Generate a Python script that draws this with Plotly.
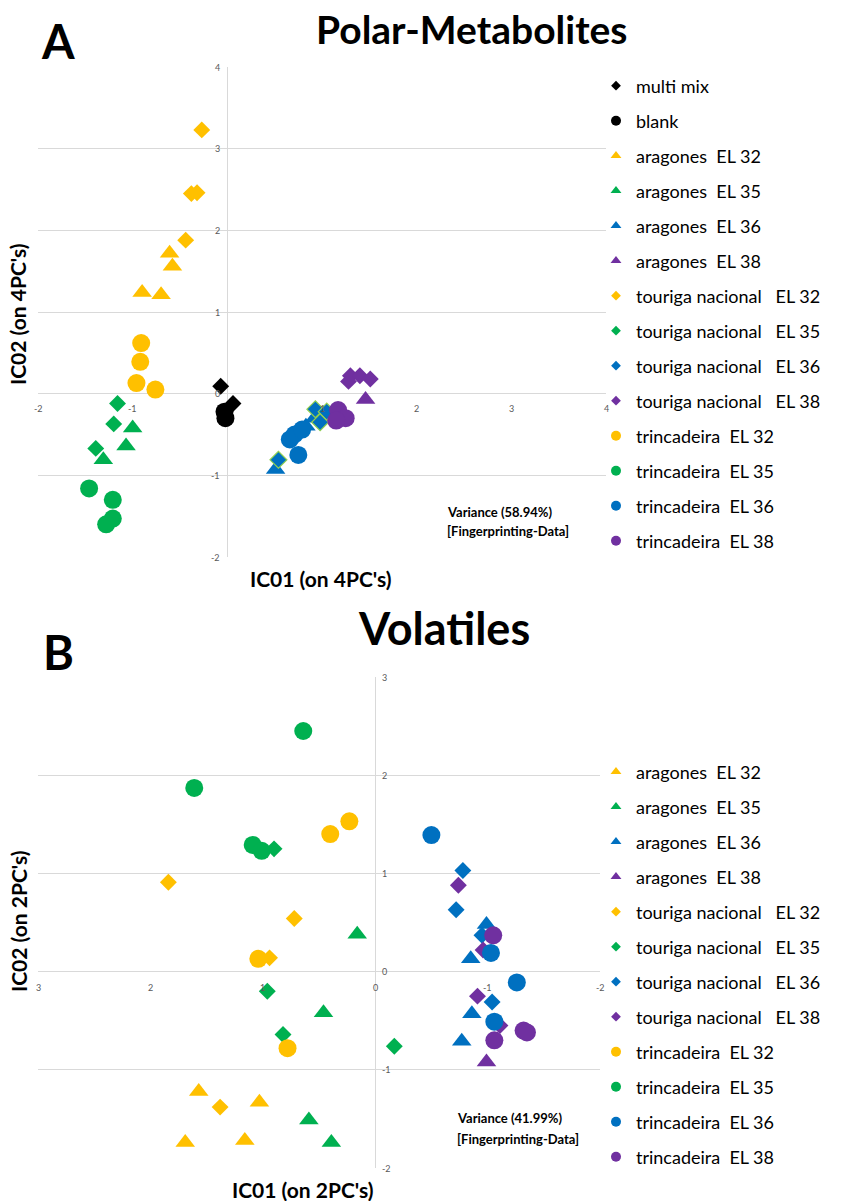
import plotly.graph_objects as go

W, H = 854, 1201
def px(x): return x / W
def py(y): return 1 - y / H

FONT = "Lato"
YELLOW, GREEN, BLUE, PURPLE, BLACK = "#FFC000", "#00B050", "#0070C0", "#7030A0", "#000000"

# ---------------- Panel A data (Polar-Metabolites) ----------------
a_names = ["multi mix", "blank",
           "aragones  EL 32", "aragones  EL 35", "aragones  EL 36", "aragones  EL 38",
           "touriga nacional   EL 32", "touriga nacional   EL 35", "touriga nacional   EL 36", "touriga nacional   EL 38",
           "trincadeira  EL 32", "trincadeira  EL 35", "trincadeira  EL 36", "trincadeira  EL 38"]
a_multimix_x = [-0.07, 0.06];  a_multimix_y = [0.09, -0.12]
a_blank_x = [-0.03, -0.02];    a_blank_y = [-0.22, -0.30]
a_ara32_x = [-0.61, -0.58, -0.90, -0.70]; a_ara32_y = [1.72, 1.56, 1.24, 1.21]
a_ara35_x = [-1.00, -1.07, -1.31];        a_ara35_y = [-0.42, -0.64, -0.81]
a_ara36_x = [0.51, 0.83, 0.92];           a_ara36_y = [-0.93, -0.40, -0.30]
a_ara38_x = [1.46];                       a_ara38_y = [-0.07]
a_tou32_x = [-0.27, -0.38, -0.32, -0.44]; a_tou32_y = [3.23, 2.45, 2.46, 1.88]
a_tou35_x = [-1.16, -1.20, -1.39];        a_tou35_y = [-0.12, -0.37, -0.67]
a_tou36_x = [0.93, 1.05, 0.98, 0.54];     a_tou36_y = [-0.19, -0.22, -0.35, -0.81]
a_tou38_x = [1.30, 1.40, 1.51, 1.28];     a_tou38_y = [0.22, 0.22, 0.18, 0.15]
a_tri32_x = [-0.91, -0.92, -0.96, -0.76]; a_tri32_y = [0.62, 0.39, 0.13, 0.05]
a_tri35_x = [-1.46, -1.21, -1.21, -1.28]; a_tri35_y = [-1.16, -1.30, -1.53, -1.60]
a_tri36_x = [0.66, 0.71, 0.79, 0.75];     a_tri36_y = [-0.56, -0.50, -0.44, -0.75]
a_tri38_x = [1.17, 1.25, 1.15];           a_tri38_y = [-0.20, -0.30, -0.33]

a_xticks = [-2, -1, 1, 2, 3, 4]
a_yticks = [-2, -1, 0, 1, 2, 3, 4]

# ---------------- Panel B data (Volatiles) ----------------
b_names = a_names[2:]
b_ara32_x = [1.57, 1.03, 1.69, 1.16];     b_ara32_y = [-1.22, -1.33, -1.74, -1.72]
b_ara35_x = [0.16, 0.46, 0.59, 0.39];     b_ara35_y = [0.38, -0.42, -1.51, -1.74]
b_ara36_x = [-0.99, -0.85, -0.86, -0.77]; b_ara36_y = [0.48, 0.13, -0.43, -0.71]
b_ara38_x = [-0.99];                      b_ara38_y = [-0.92]
b_tou32_x = [1.84, 0.72, 0.94, 1.38];     b_tou32_y = [0.91, 0.54, 0.14, -1.38]
b_tou35_x = [0.90, 0.96, 0.82, -0.17];    b_tou35_y = [1.25, -0.20, -0.64, -0.76]
b_tou36_x = [-0.78, -0.72, -0.95, -1.04]; b_tou36_y = [1.03, 0.63, 0.37, -0.31]
b_tou38_x = [-0.74, -0.96, -0.91, -1.11]; b_tou38_y = [0.88, 0.22, -0.25, -0.55]
b_tri32_x = [0.23, 0.40, 1.04, 0.78];     b_tri32_y = [1.53, 1.40, 0.13, -0.78]
b_tri35_x = [0.64, 1.61, 1.09, 1.01];     b_tri35_y = [2.45, 1.87, 1.29, 1.23]
b_tri36_x = [-0.50, -1.03, -1.26, -1.06]; b_tri36_y = [1.39, 0.19, -0.11, -0.51]
b_tri38_x = [-1.05, -1.06, -1.32, -1.35]; b_tri38_y = [0.37, -0.70, -0.60, -0.62]

b_xticks = [3, 2, 1, 0, -1, -2]
b_yticks = [-2, -1, 0, 1, 2, 3]

fig = go.Figure()

SIZES = {"circle": 18, "diamond": 13, "triangle-up": 17}
LEG_SIZES = {"circle": 10, "diamond": 7.5, "triangle-up": 9.5}

def add(name, xs, ys, symbol, color, xa, ya, legend, outline=None):
    # plotted markers
    fig.add_trace(go.Scatter(
        x=xs, y=ys, mode="markers", name=name.replace(" ", "\u00a0"),
        xaxis=xa, yaxis=ya, showlegend=False,
        marker=dict(symbol=symbol, size=SIZES[symbol], color=color,
                    line=dict(width=1.2 if outline else 0, color=outline or color)),
    ))
    # legend entry with the small legend-sized marker
    fig.add_trace(go.Scatter(
        x=[None], y=[None], mode="markers", name=name.replace(" ", "\u00a0"),
        xaxis=xa, yaxis=ya, legend=legend, legendgroup=legend + name, showlegend=True,
        marker=dict(symbol=symbol, size=LEG_SIZES[symbol], color=color, line=dict(width=0)),
    ))

a_series = [
    (a_multimix_x, a_multimix_y, "diamond", BLACK, None),
    (a_blank_x, a_blank_y, "circle", BLACK, None),
    (a_ara32_x, a_ara32_y, "triangle-up", YELLOW, None),
    (a_ara35_x, a_ara35_y, "triangle-up", GREEN, None),
    (a_ara36_x, a_ara36_y, "triangle-up", BLUE, None),
    (a_ara38_x, a_ara38_y, "triangle-up", PURPLE, None),
    (a_tou32_x, a_tou32_y, "diamond", YELLOW, None),
    (a_tou35_x, a_tou35_y, "diamond", GREEN, None),
    (a_tou36_x, a_tou36_y, "diamond", BLUE, "#92D050"),
    (a_tou38_x, a_tou38_y, "diamond", PURPLE, None),
    (a_tri32_x, a_tri32_y, "circle", YELLOW, None),
    (a_tri35_x, a_tri35_y, "circle", GREEN, None),
    (a_tri36_x, a_tri36_y, "circle", BLUE, None),
    (a_tri38_x, a_tri38_y, "circle", PURPLE, None),
]
for name, (xs, ys, sym, col, ol) in zip(a_names, a_series):
    add(name, xs, ys, sym, col, "x", "y", "legend", ol)

b_series = [
    (b_ara32_x, b_ara32_y, "triangle-up", YELLOW),
    (b_ara35_x, b_ara35_y, "triangle-up", GREEN),
    (b_ara36_x, b_ara36_y, "triangle-up", BLUE),
    (b_ara38_x, b_ara38_y, "triangle-up", PURPLE),
    (b_tou32_x, b_tou32_y, "diamond", YELLOW),
    (b_tou35_x, b_tou35_y, "diamond", GREEN),
    (b_tou36_x, b_tou36_y, "diamond", BLUE),
    (b_tou38_x, b_tou38_y, "diamond", PURPLE),
    (b_tri32_x, b_tri32_y, "circle", YELLOW),
    (b_tri35_x, b_tri35_y, "circle", GREEN),
    (b_tri36_x, b_tri36_y, "circle", BLUE),
    (b_tri38_x, b_tri38_y, "circle", PURPLE),
]
for name, (xs, ys, sym, col) in zip(b_names, b_series):
    add(name, xs, ys, sym, col, "x2", "y2", "legend2")

GRID = "#d9d9d9"
axis_common = dict(showticklabels=False, ticks="", showline=False, zeroline=True,
                   zerolinecolor=GRID, zerolinewidth=1.2, dtick=1, fixedrange=True)

ann = []
tick_font = dict(family=FONT, size=9, color="#595959")
for t in a_xticks:
    ann.append(dict(x=t, y=0, xref="x", yref="y", text=str(t), showarrow=False,
                    yshift=-15, font=tick_font))
for t in a_yticks:
    ann.append(dict(x=0, y=t, xref="x", yref="y", text=str(t), showarrow=False,
                    xanchor="right", xshift=-5, font=tick_font))
for t in b_xticks:
    ann.append(dict(x=t, y=0, xref="x2", yref="y2", text=str(t), showarrow=False,
                    yshift=-16, font=tick_font))
for t in b_yticks:
    ann.append(dict(x=0, y=t, xref="x2", yref="y2", text=str(t), showarrow=False,
                    xanchor="left", xshift=5, font=tick_font))

def txt(x, y, s, size, bold=True, angle=0, xanchor="center"):
    ann.append(dict(x=px(x), y=py(y), xref="paper", yref="paper", text=f"<b>{s}</b>" if bold else s,
                    showarrow=False, textangle=angle, xanchor=xanchor, yanchor="middle",
                    font=dict(family=FONT, size=size, color="black")))

txt(58, 41, "A", 47)
txt(472, 29, "Polar-Metabolites", 39)
txt(18, 314, "IC02 (on 4PC's)", 21, angle=-90)
txt(321, 578, "IC01 (on 4PC's)", 21)
txt(445, 512, "Variance (58.94%)", 13, xanchor="left")
txt(445, 531, "[Fingerprinting-Data]", 13, xanchor="left")

txt(58, 652, "B", 47)
txt(444, 628, "Volatiles", 45)
txt(18, 921, "IC02 (on 2PC's)", 21, angle=-90)
txt(303, 1189, "IC01 (on 2PC's)", 21)
txt(455, 1118, "Variance (41.99%)", 13, xanchor="left")
txt(455, 1139, "[Fingerprinting-Data]", 13, xanchor="left")

legend_common = dict(xanchor="left", yanchor="top", bgcolor="rgba(0,0,0,0)",
                     font=dict(family=FONT, size=18, color="black"),
                     itemsizing="trace", tracegroupgap=8.6, itemclick=False)

fig.update_layout(
    width=W, height=H, margin=dict(l=0, r=0, t=0, b=0),
    paper_bgcolor="white", plot_bgcolor="white",
    showlegend=True,
    xaxis=dict(domain=[px(38), px(606)], range=[-2, 4], showgrid=False, anchor="y", **axis_common),
    yaxis=dict(domain=[py(557), py(67)], range=[-2, 4], showgrid=True, gridcolor=GRID, gridwidth=1.2,
               anchor="x", **axis_common),
    xaxis2=dict(domain=[px(38), px(600)], range=[3, -2], showgrid=False, anchor="y2", **axis_common),
    yaxis2=dict(domain=[py(1168), py(677)], range=[-2, 3], showgrid=True, gridcolor=GRID, gridwidth=1.2,
                anchor="x2", **axis_common),
    legend=dict(x=px(596), y=py(67.5), **legend_common),
    legend2=dict(x=px(596), y=py(753.5), **legend_common),
    annotations=ann,
)

fig.write_html("out.html")
